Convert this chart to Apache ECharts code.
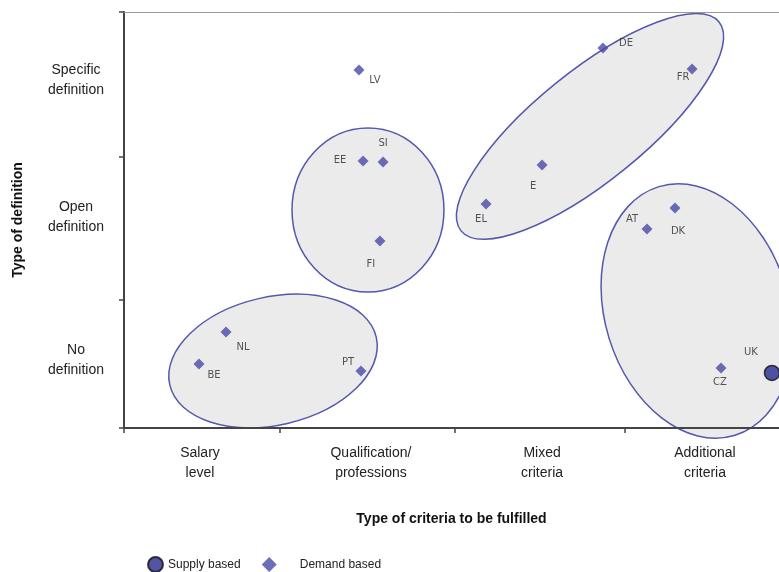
<!DOCTYPE html>
<html>
<head>
<meta charset="utf-8">
<script src="https://cdn.jsdelivr.net/npm/echarts@6/dist/echarts.min.js"></script>
<style>
  html, body { margin: 0; padding: 0; background: #ffffff; }
  #chart { width: 779px; height: 572px; }
</style>
</head>
<body>
<div id="chart"></div>
<script>
// ---- Data ----
const xCategories = ['Salary\nlevel', 'Qualification/\nprofessions', 'Mixed\ncriteria', 'Additional\ncriteria'];
const xCategoryCenters = [0.464, 1.508, 2.553, 3.548];
const xTickValues = [0, 0.953, 2.02, 3.06];

const yCategories = ['No\ndefinition', 'Open\ndefinition', 'Specific\ndefinition'];
const yCategoryCenters = [0.49, 1.52, 2.51];
const yTickValues = [0, 0.923, 1.954, 3];

// Demand based countries
const demandCodes = ['LV', 'EE', 'SI', 'FI', 'NL', 'BE', 'PT', 'DE', 'FR', 'E', 'EL', 'AT', 'DK', 'CZ'];
const demandX = [1.435, 1.460, 1.582, 1.563, 0.623, 0.458, 1.447, 2.925, 3.469, 2.553, 2.211, 3.194, 3.365, 3.646];
const demandY = [2.582, 1.925, 1.918, 1.349, 0.692, 0.462, 0.411, 2.740, 2.589, 1.897, 1.615, 1.435, 1.587, 0.433];

// Supply based countries
const supplyCodes = ['UK'];
const supplyX = [3.957];
const supplyY = [0.397];

// Groupings (ellipses): centre x, centre y, semi-axis a, semi-axis b (x-axis units), rotation deg
const groupCx = [0.910, 1.490, 2.846, 3.499];
const groupCy = [0.483, 1.572, 2.175, 0.844];
const groupA = [0.647, 0.464, 1.014, 0.562];
const groupB = [0.391, 0.501, 0.336, 0.794];
const groupRot = [13, 0, 39, 17];

// ---- Styling (label placement offsets, px) ----
const labelOffsets = {
  LV: [16, 10], EE: [-23, -1], SI: [0, -19], FI: [-9, 23], NL: [17, 15], BE: [15, 11],
  PT: [-13, -9], DE: [23, -5], FR: [-9, 8], E: [-9, 21], EL: [-5, 15], AT: [-15, -10],
  DK: [3, 23], CZ: [-1, 14], UK: [-21, -21]
};

const chart = echarts.init(document.getElementById('chart'), null, { renderer: 'canvas' });

const pointLabel = {
  show: true,
  position: 'inside',
  color: '#2a2a2a',
  fontSize: 10,
  fontFamily: 'DejaVu Sans',
  formatter: p => p.name
};

const demandData = demandCodes.map((c, i) => ({
  name: c, value: [demandX[i], demandY[i]], label: { offset: labelOffsets[c] }
}));
const supplyData = supplyCodes.map((c, i) => ({
  name: c, value: [supplyX[i], supplyY[i]], label: { offset: labelOffsets[c] }
}));
const groupData = groupCx.map((cx, i) => [cx, groupCy[i], groupA[i], groupB[i], groupRot[i]]);

function nearestLabel(v, centers, labels) {
  let best = 0;
  for (let i = 1; i < centers.length; i++) {
    if (Math.abs(centers[i] - v) < Math.abs(centers[best] - v)) best = i;
  }
  return labels[best];
}

const option = {
  backgroundColor: '#ffffff',
  animation: false,
  textStyle: { fontFamily: 'Liberation Sans' },
  grid: { left: 124, right: 0, top: 12, bottom: 144, containLabel: false, outerBoundsMode: 'none' },
  legend: {
    left: 147,
    top: 556,
    padding: 0,
    itemWidth: 15,
    itemHeight: 15,
    itemGap: 21,
    textStyle: { fontSize: 12, color: '#222', fontFamily: 'Liberation Sans' },
    data: [
      { name: 'Supply based', icon: 'circle' },
      { name: 'Demand based', icon: 'diamond', textStyle: { padding: [0, 0, 0, 18] } }
    ]
  },
  xAxis: [
    {
      type: 'value', min: 0, max: 4, z: 5,
      name: 'Type of criteria to be fulfilled',
      nameLocation: 'middle', nameGap: 84,
      nameTextStyle: { fontSize: 14, fontWeight: 'bold', color: '#111' },
      axisLine: { lineStyle: { color: '#444', width: 2 } },
      axisTick: { show: true, length: 5, customValues: xTickValues, lineStyle: { color: '#444', width: 1.5 } },
      axisLabel: {
        customValues: xCategoryCenters,
        margin: 15, fontSize: 14, color: '#222', lineHeight: 20,
        formatter: v => nearestLabel(v, xCategoryCenters, xCategories)
      },
      splitLine: { show: false }
    },
    {
      type: 'value', min: 0, max: 4, position: 'top', z: 5,
      axisLine: { show: true, lineStyle: { color: '#999', width: 1 } },
      axisTick: { show: false }, axisLabel: { show: false }, splitLine: { show: false }
    }
  ],
  yAxis: {
    type: 'value', min: 0, max: 3, z: 5,
    name: 'Type of definition',
    nameLocation: 'middle', nameGap: 99, nameRotate: 90,
    nameTextStyle: { fontSize: 14, fontWeight: 'bold', color: '#111' },
    axisLine: { lineStyle: { color: '#444', width: 2 } },
    axisTick: { show: true, length: 5, customValues: yTickValues, lineStyle: { color: '#444', width: 1.5 } },
    axisLabel: {
      customValues: yCategoryCenters,
      margin: 48, align: 'center', fontSize: 14, color: '#222', lineHeight: 20,
      formatter: v => nearestLabel(v, yCategoryCenters, yCategories)
    },
    splitLine: { show: false }
  },
  series: [
    {
      type: 'custom',
      name: 'groups',
      z: 1,
      clip: false,
      silent: true,
      renderItem: (params, api) => {
        const c = api.coord([api.value(0), api.value(1)]);
        const unit = api.size([1, 0])[0];
        return {
          type: 'ellipse',
          x: c[0], y: c[1],
          rotation: api.value(4) * Math.PI / 180,
          shape: { cx: 0, cy: 0, rx: api.value(2) * unit, ry: api.value(3) * unit },
          style: { fill: '#ebebeb', stroke: '#5358ab', lineWidth: 1.5 }
        };
      },
      data: groupData
    },
    {
      type: 'scatter',
      name: 'Supply based',
      z: 8,
      clip: false,
      symbol: 'circle',
      symbolSize: 15,
      itemStyle: { color: '#262b8c', borderColor: '#111', borderWidth: 1.5 },
      label: pointLabel,
      data: supplyData
    },
    {
      type: 'scatter',
      name: 'Demand based',
      z: 8,
      clip: false,
      symbol: 'diamond',
      symbolSize: 11,
      itemStyle: { color: '#4a4aa6' },
      label: pointLabel,
      data: demandData
    }
  ]
};

chart.setOption(option);
</script>
</body>
</html>
